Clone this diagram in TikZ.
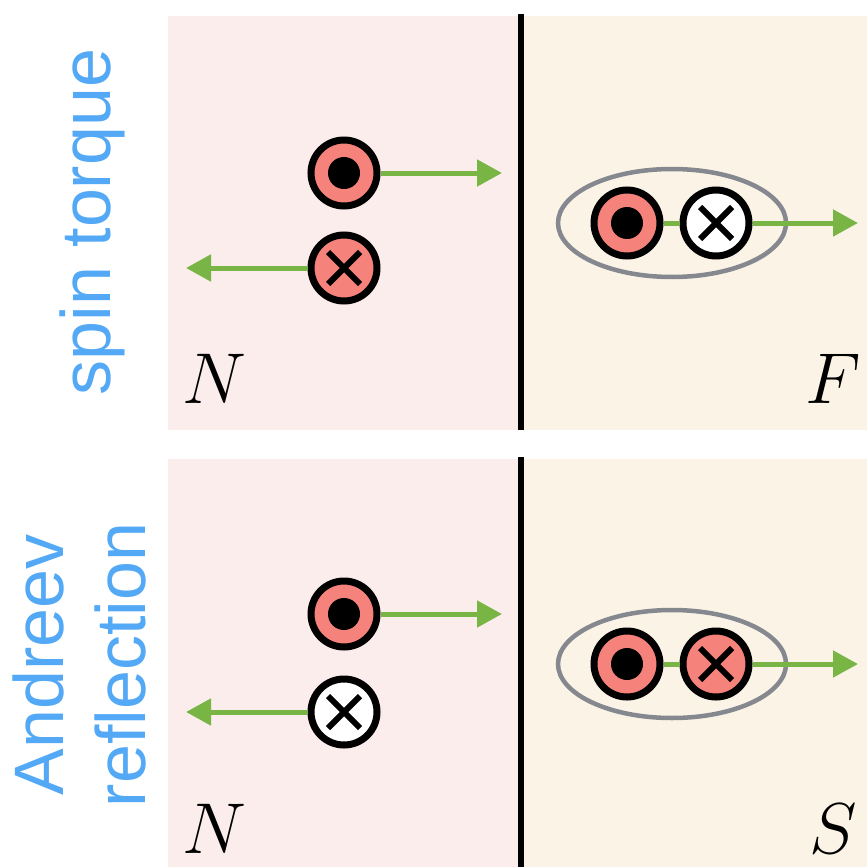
\RequirePackage{fix-cm}
\documentclass[tikz,border=0pt]{standalone}
\usepackage{fontspec}
\newfontfamily\labfont{Liberation Sans}
\usetikzlibrary{arrows.meta,shapes.geometric}
\definecolor{pinkbg}{HTML}{FBEDEC}
\definecolor{beigebg}{HTML}{FBF3E6}
\definecolor{salmon}{HTML}{F6837B}
\definecolor{spingreen}{HTML}{79B544}
\definecolor{pairgray}{HTML}{85898F}
\definecolor{labblue}{HTML}{53A9F6}
\tikzset{
  spinbase/.style={circle, draw=black, line width=7pt, minimum size=66pt, inner sep=0pt},
  spinup/.style={spinbase, fill=salmon,
    path picture={\fill[black] (path picture bounding box.center) circle (16pt);}},
  spindown/.style={spinbase, fill=#1,
    path picture={\draw[line width=6pt]
      ([shift={(-16pt,-16pt)}]path picture bounding box.center) -- ([shift={(16pt,16pt)}]path picture bounding box.center)
      ([shift={(-16pt,16pt)}]path picture bounding box.center) -- ([shift={(16pt,-16pt)}]path picture bounding box.center);}},
  spindown/.default=salmon,
  flow/.style={draw=spingreen, line width=5pt, -{Triangle[length=25pt,width=26pt]}},
  link/.style={draw=spingreen, line width=5pt},
  pair/.style={ellipse, draw=pairgray, line width=4.5pt, minimum width=228pt, minimum height=108pt, inner sep=0pt},
  region/.style={font=\fontsize{72}{74}\selectfont, anchor=base, inner sep=0pt},
  rowlab/.style={font=\labfont\fontsize{70}{82}\selectfont, text=labblue, rotate=90, anchor=base, inner sep=0pt},
  wall/.style={line width=6pt}
}
\begin{document}
\begin{tikzpicture}[x=1pt,y=-1pt]
\useasboundingbox (0,0) rectangle (867,867);
% backgrounds
\fill[pinkbg] (168,16) rectangle (521,430);
\fill[beigebg] (521,16) rectangle (867,430);
\fill[pinkbg] (168,459) rectangle (521,867);
\fill[beigebg] (521,459) rectangle (867,867);
\coordinate (w1t) at (521,14);
\coordinate (w1b) at (521,430);
\coordinate (w2t) at (521,457);
\coordinate (w2b) at (521,867);
\draw[wall] (w1t) -- (w1b);
\draw[wall] (w2t) -- (w2b);

% labels
\node[rowlab] (lab1) at (110,222) {spin torque};
\node[rowlab] (lab2a) at (63,665) {Andreev};
\node[rowlab] (lab2b) at (145,665) {reflection};

\node[region] (N1) at (214,403) {$N$};
\node[region] (F1) at (833,403) {$F$};
\node[region] (N2) at (214,853) {$N$};
\node[region] (S2) at (833,853) {$S$};

% ---- top panel ----
\coordinate (t1r) at (502,173);
\coordinate (t1l) at (186,268);
\coordinate (t1p) at (858,223);
\node[pair] (e1) at (672,223) {};
\node[spinup] (u1) at (344,173) {};
\node[spindown] (d1) at (344,268) {};
\draw[flow] (u1.east) -- (t1r);
\draw[flow] (d1.west) -- (t1l);
\node[spinup] (u1p) at (627,223) {};
\node[spindown=white] (d1p) at (716,223) {};
\draw[link] (u1p.east) -- (d1p.west);
\draw[flow] (d1p.east) -- (t1p);

% ---- bottom panel ----
\coordinate (t2r) at (502,614);
\coordinate (t2l) at (186,712);
\coordinate (t2p) at (858,664);
\node[pair] (e2) at (672,664) {};
\node[spinup] (u2) at (344,614) {};
\node[spindown=white] (d2) at (344,712) {};
\draw[flow] (u2.east) -- (t2r);
\draw[flow] (d2.west) -- (t2l);
\node[spinup] (u2p) at (627,664) {};
\node[spindown] (d2p) at (716,664) {};
\draw[link] (u2p.east) -- (d2p.west);
\draw[flow] (d2p.east) -- (t2p);
\end{tikzpicture}
\end{document}
